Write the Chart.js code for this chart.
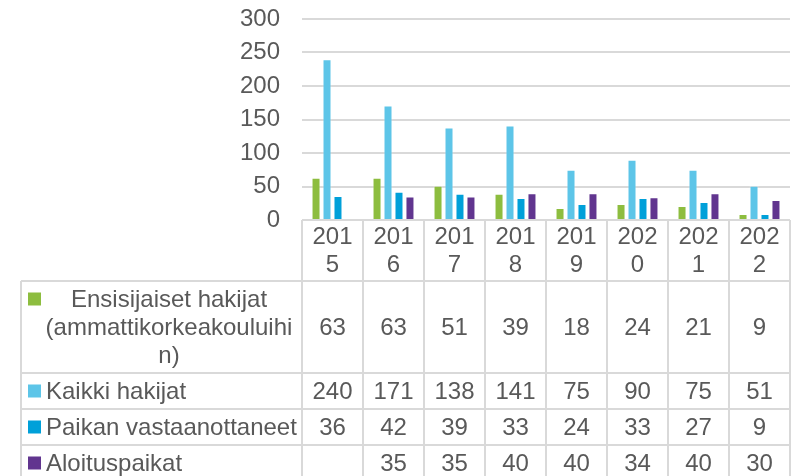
<!DOCTYPE html>
<html>
<head>
<meta charset="utf-8">
<script src="https://cdn.jsdelivr.net/npm/chart.js@4/dist/chart.umd.min.js"></script>
<style>
  html, body { margin: 0; padding: 0; background: #fff; }
  canvas { display: block; }
</style>
</head>
<body>
<canvas id="hakijat" width="792" height="476"></canvas>
<script>
// years and series, one array per row of the table
var years = ['2015', '2016', '2017', '2018', '2019', '2020', '2021', '2022'];
var seriesNames = [
    'Ensisijaiset hakijat (ammattikorkeakouluihin)',
    'Kaikki hakijat',
    'Paikan vastaanottaneet',
    'Aloituspaikat'
];
var ensisijaiset = [63, 63, 51, 39, 18, 24, 21, 9];
var kaikki = [240, 171, 138, 141, 75, 90, 75, 51];
var vastaanottaneet = [36, 42, 39, 33, 24, 33, 27, 9];
var aloituspaikat = [null, 35, 35, 40, 40, 34, 40, 30];
var yTicks = [0, 50, 100, 150, 200, 250, 300];

var colors = ['#8DBD3F', '#5DC5E8', '#00A0D9', '#61358F'];
var textColor = '#595959';
var lineColor = '#D9D9D9';
var fontFamily = "'Liberation Sans', Arial, sans-serif";
var fontSize = 24;
var lineH = 28;

// break text into lines that fit maxW, splitting long words by characters
function wrapText(ctx, text, maxW) {
    var words = text.split(' ');
    var lines = [];
    var cur = '';
    words.forEach(function(word) {
        var test = cur ? cur + ' ' + word : word;
        if (ctx.measureText(test).width <= maxW) {
            cur = test;
            return;
        }
        if (cur) lines.push(cur);
        while (ctx.measureText(word).width > maxW) {
            var n = word.length - 1;
            while (n > 1 && ctx.measureText(word.slice(0, n)).width > maxW) n--;
            lines.push(word.slice(0, n));
            word = word.slice(n);
        }
        cur = word;
    });
    if (cur) lines.push(cur);
    return lines;
}

// data table under the plot, with legend keys in the first column
var dataTable = {
    id: 'dataTable',
    afterDraw: function(chart) {
        var ctx = chart.ctx;
        var x = chart.scales.x;
        var area = chart.chartArea;
        var colW = (area.right - area.left) / years.length;
        var tableLeft = 21;
        var keyX = 28, keySize = 13, labelX = 46, labelRight = 292, labelMaxW = 257;
        var values = chart.data.datasets.map(function(ds) { return ds.data; });

        ctx.save();
        ctx.font = fontSize + 'px ' + fontFamily;
        ctx.fillStyle = textColor;
        ctx.textBaseline = 'middle';

        // header row with years
        var headerLines = years.map(function(y) { return wrapText(ctx, y, colW - 12); });
        var headerN = Math.max.apply(null, headerLines.map(function(l) { return l.length; }));
        var top = area.bottom;
        var headerH = headerN * lineH + 5;
        ctx.textAlign = 'center';
        headerLines.forEach(function(lines, i) {
            var cx = x.getPixelForValue(i);
            var cy = top + headerH / 2;
            lines.forEach(function(s, k) {
                ctx.fillText(s, cx, cy + (k - (lines.length - 1) / 2) * lineH + 1);
            });
        });

        // series rows
        var rowTops = [];
        var y0 = top + headerH;
        seriesNames.forEach(function(name, r) {
            var lines = wrapText(ctx, name, labelMaxW);
            var h = lines.length * lineH + 8;
            var cy = y0 + h / 2;
            rowTops.push(y0);

            lines.forEach(function(s, k) {
                var ly = cy + (k - (lines.length - 1) / 2) * lineH + 1;
                if (lines.length > 1) {
                    ctx.textAlign = 'center';
                    ctx.fillText(s, (labelX + labelRight) / 2, ly);
                } else {
                    ctx.textAlign = 'left';
                    ctx.fillText(s, labelX, ly);
                }
            });
            var firstY = cy - (lines.length - 1) / 2 * lineH;
            ctx.fillStyle = colors[r];
            ctx.fillRect(keyX, firstY - keySize / 2, keySize, keySize);
            ctx.fillStyle = textColor;

            ctx.textAlign = 'center';
            values[r].forEach(function(v, i) {
                if (v === null) return;
                ctx.fillText(String(v), x.getPixelForValue(i), cy + 1);
            });
            y0 += h;
        });
        rowTops.push(y0);

        // grid lines of the table
        ctx.strokeStyle = lineColor;
        ctx.lineWidth = 2;
        ctx.beginPath();
        for (var i = 0; i <= years.length; i++) {
            var vx = Math.round(area.left + i * colW);
            ctx.moveTo(vx, top);
            ctx.lineTo(vx, y0);
        }
        ctx.moveTo(tableLeft, rowTops[0]);
        ctx.lineTo(tableLeft, y0);
        rowTops.forEach(function(ry) {
            ry = Math.round(ry);
            ctx.moveTo(tableLeft, ry);
            ctx.lineTo(area.right, ry);
        });
        ctx.stroke();
        ctx.restore();
    }
};

var datasets = [ensisijaiset, kaikki, vastaanottaneet, aloituspaikat].map(function(d, i) {
    return {
        label: seriesNames[i],
        data: d,
        backgroundColor: colors[i],
        borderColor: 'rgba(255,255,255,0.35)',
        borderWidth: 1,
        barPercentage: 0.82,
        categoryPercentage: 0.72
    };
});

new Chart(document.getElementById('hakijat').getContext('2d'), {
    type: 'bar',
    data: { labels: years, datasets: datasets },
    options: {
        responsive: false,
        devicePixelRatio: 1,
        animation: false,
        layout: { padding: { top: 19, right: 2, bottom: 256, left: 0 } },
        plugins: {
            legend: { display: false },
            tooltip: { enabled: false }
        },
        scales: {
            x: { display: false },
            y: {
                min: 0,
                max: 300,
                afterBuildTicks: function(scale) {
                    scale.ticks = yTicks.map(function(v) { return { value: v }; });
                },
                afterFit: function(scale) {
                    scale.width = 302;
                    scale.paddingTop = 0;
                    scale.paddingBottom = 0;
                },
                ticks: {
                    padding: 22,
                    color: textColor,
                    font: { family: fontFamily, size: fontSize }
                },
                grid: { color: lineColor, lineWidth: 2, drawTicks: false },
                border: { display: false }
            }
        }
    },
    plugins: [dataTable]
});
</script>
</body>
</html>
